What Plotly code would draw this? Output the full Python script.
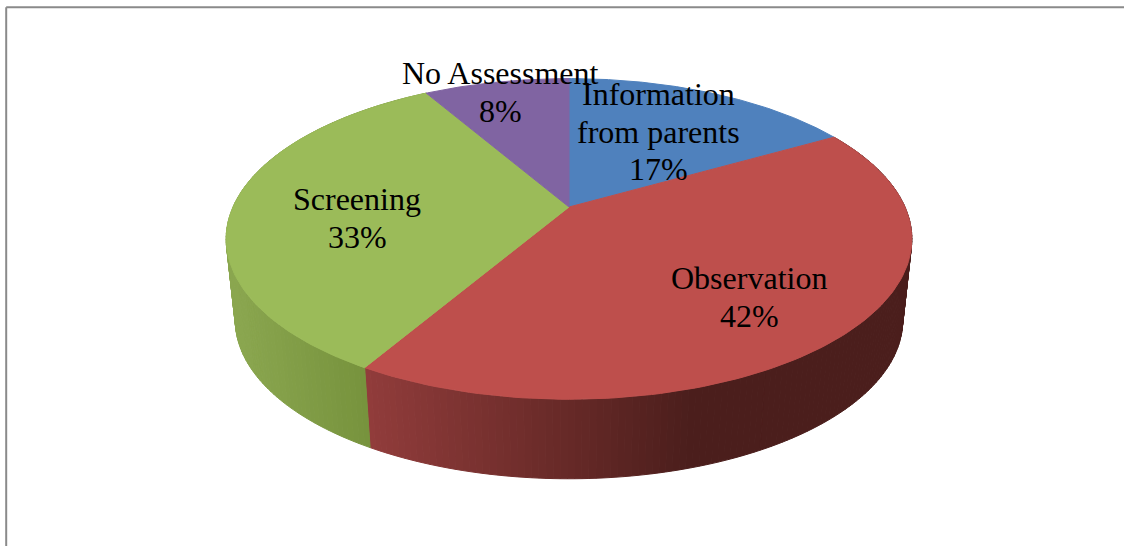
import numpy as np
import plotly.graph_objects as go

categories = ["Information from parents", "Observation", "Screening", "No Assessment"]
label_lines = [["Information", "from parents"], ["Observation"], ["Screening"], ["No Assessment"]]
values = [16.7, 41.7, 33.3, 8.3]
top_colors = ["#4F81BD", "#BE4F4C", "#9BBB59", "#8064A2"]
# wall shading stops: (pixel x, colour)
wall_stops = [
    [(225, "#4F81BD"), (913, "#4F81BD")],
    [(368, (0x91, 0x3C, 0x3B)), (570, (0x66, 0x29, 0x27)), (690, (0x4B, 0x1E, 0x1C)), (913, (0x4B, 0x1E, 0x1C))],
    [(225, (0x8C, 0xA8, 0x51)), (372, (0x76, 0x92, 0x3C))],
    [(225, "#8064A2"), (913, "#8064A2")],
]
label_xy = [(658, 94), (749, 278), (357, 199), (500, 73)]
LINE_GAP = 37.5

CX, K = 569.0, 0.199
TOP = dict(a=336.0, b=154.0, y=207.0)
BOT = dict(a=327.0, b=152.0, y=289.0)


def rim(theta, g):
    d = 1 + K * np.cos(theta)
    return CX + g["a"] * np.sin(theta) / d, g["y"] - g["b"] * np.cos(theta) / d


total = sum(values)
edges = np.concatenate([[0.0], np.cumsum(values)]) / total * 2 * np.pi
fig = go.Figure()


def add_poly(x, y, color):
    fig.add_trace(go.Scatter(x=list(x), y=list(y), mode="lines", fill="toself", fillcolor=color,
                             line=dict(color=color, width=1), hoverinfo="skip", showlegend=False))


def shade(stops, x):
    if isinstance(stops[0][1], str):
        return stops[0][1]
    xs = [s[0] for s in stops]
    rgb = [np.interp(x, xs, [s[1][i] for s in stops]) for i in range(3)]
    return "rgb(%d,%d,%d)" % tuple(int(round(c)) for c in rgb)


# outer walls, one narrow strip per step; the top surface covers the hidden part
for i in [1, 2]:
    n = max(2, int((edges[i + 1] - edges[i]) / np.radians(1.0)))
    th = np.linspace(edges[i], edges[i + 1], n + 1)
    for t0, t1 in zip(th[:-1], th[1:]):
        xa, ya = rim(np.array([t0, t1]), TOP)
        xb, yb = rim(np.array([t1, t0]), BOT)
        add_poly(np.r_[xa, xb, xa[0]], np.r_[ya, yb, ya[0]], shade(wall_stops[i], (xa.mean() + xb.mean()) / 2))

# top surface
for i, c in enumerate(top_colors):
    th = np.linspace(edges[i], edges[i + 1], 120)
    x, y = rim(th, TOP)
    add_poly(np.r_[CX, x, CX], np.r_[TOP["y"], y, TOP["y"]], c)

annotations = []
for lines, v, (lx, ly) in zip(label_lines, values, label_xy):
    for j, t in enumerate(lines + [f"{round(v / total * 100)}%"]):
        annotations.append(dict(x=lx, y=ly + j * LINE_GAP, text=t, showarrow=False, xanchor="center",
                                yanchor="middle", font=dict(family="Liberation Serif", size=32, color="#000000")))

frame = dict(type="line", line=dict(color="#8A8A8A", width=2), layer="above")
fig.update_layout(
    width=1124, height=546, margin=dict(l=0, r=0, t=0, b=0),
    paper_bgcolor="white", plot_bgcolor="white", showlegend=False,
    xaxis=dict(range=[0, 1124], visible=False, fixedrange=True),
    yaxis=dict(range=[546, 0], visible=False, fixedrange=True),
    annotations=annotations,
    shapes=[dict(frame, x0=6.2, x1=6.2, y0=7.2, y1=546), dict(frame, x0=6.2, x1=1124, y0=7.2, y1=7.2)],
)
fig.write_html("out.html", config={"displayModeBar": False},
               post_script="document.body.style.margin='0';document.body.style.overflow='hidden';")
